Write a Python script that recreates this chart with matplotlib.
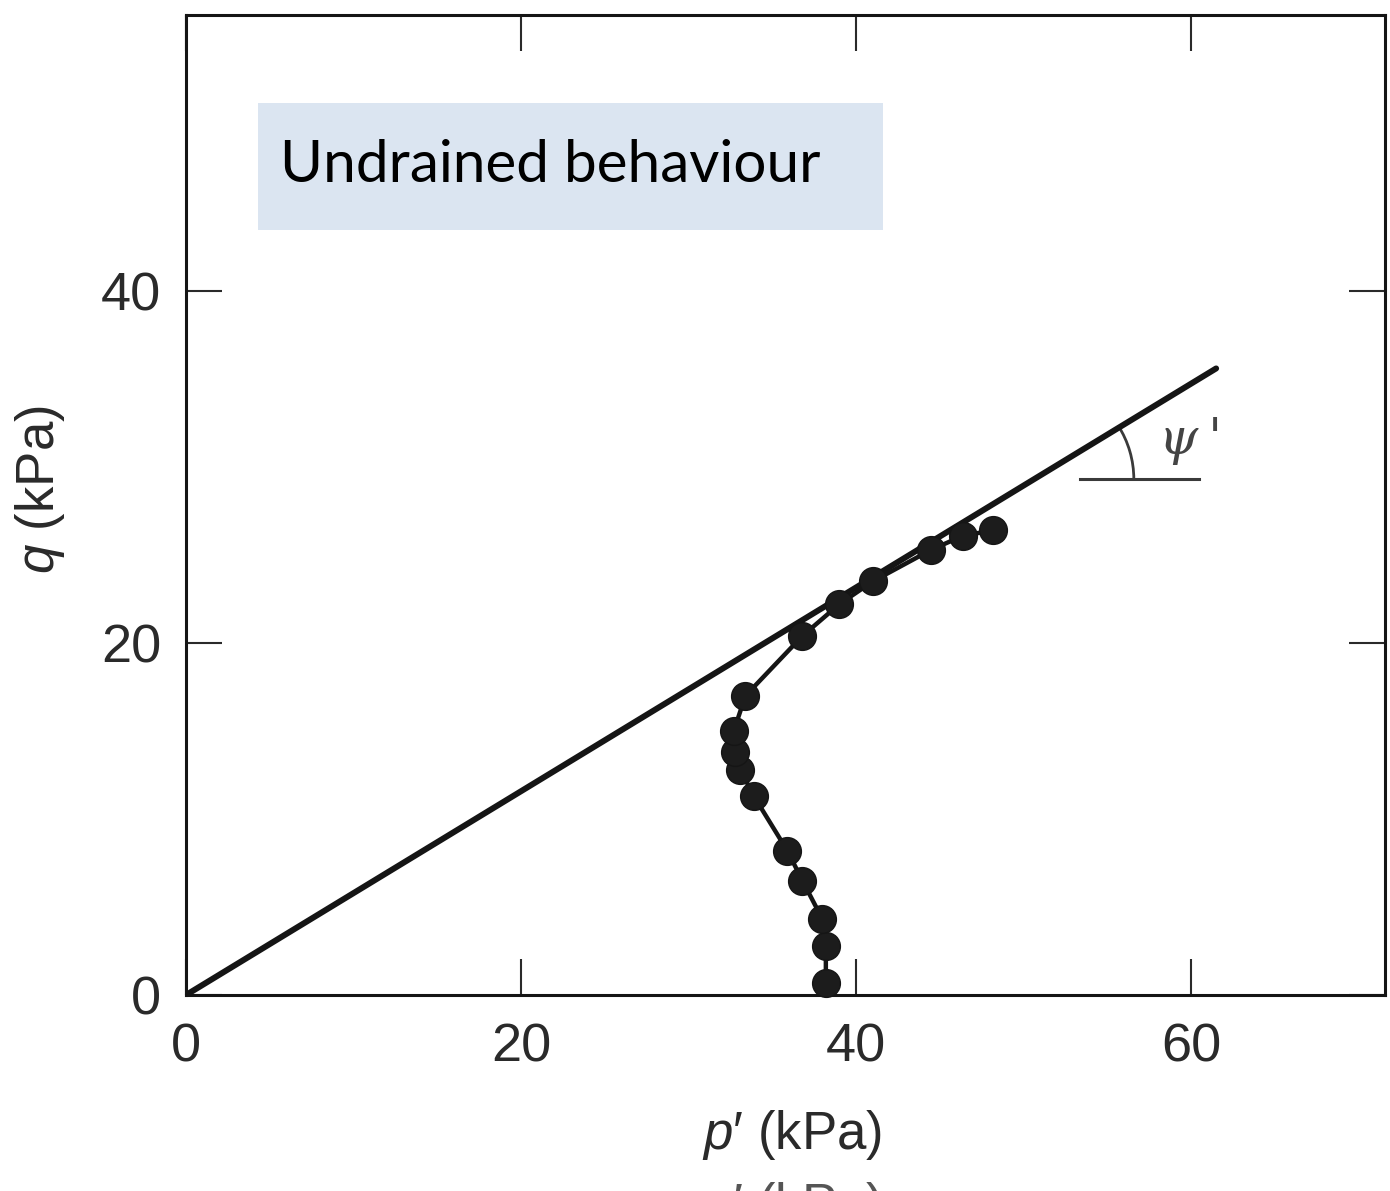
"""Undrained stress path in p'-q space (scanned textbook figure recreation)."""

import matplotlib

matplotlib.use("Agg")

import matplotlib.pyplot as plt
from matplotlib.patches import Arc, Rectangle

# stress path data points (kPa)
P_PATH = [38.2, 38.2, 38.0, 36.8, 35.9, 33.9, 33.1, 32.8, 32.7, 33.4,
          36.8, 39.0, 41.0, 44.5, 46.4, 48.2]
Q_PATH = [0.7, 2.8, 4.3, 6.5, 8.2, 11.3, 12.8, 13.8, 15.0, 17.0,
          20.4, 22.2, 23.5, 25.3, 26.1, 26.4]

# failure envelope through origin
LINE_P = [0.0, 61.5]
LINE_Q = [0.0, 35.6]

X_TICKS = [0, 20, 40, 60]
Y_TICKS = [0, 20, 40]

TITLE = "Undrained behaviour"
X_LABEL = "$p$\u2032 (kPa)"
Y_LABEL = "$q$ (kPa)"
INK = "#151515"
GREY = "#2a2a2a"

W_PX, H_PX = 1390, 1191
DPI = 100
PX_PER_P = 16.75   # pixels per kPa along x
PX_PER_Q = 17.6    # pixels per kPa along y

plt.rcParams["font.family"] = ["Liberation Sans", "DejaVu Sans"]
plt.rcParams["mathtext.fontset"] = "custom"
plt.rcParams["mathtext.rm"] = "Liberation Sans"
plt.rcParams["mathtext.it"] = "Liberation Sans:italic"

fig = plt.figure(figsize=(W_PX / DPI, H_PX / DPI), dpi=DPI)
fig.patch.set_facecolor("white")

# axes box in pixels: left 186, right 1385, top 15, bottom 995
ax = fig.add_axes([186 / W_PX, 1 - 995 / H_PX, (1385 - 186) / W_PX, (995 - 15) / H_PX])
ax.set_xlim(0, (1385 - 186) / PX_PER_P)
ax.set_ylim(0, (995 - 15) / PX_PER_Q)

ax.plot(LINE_P, LINE_Q, color=INK, lw=4.3, solid_capstyle="round", zorder=3)
ax.plot(P_PATH, Q_PATH, color=INK, lw=3.2, marker="o", markersize=20,
        markerfacecolor="#1c1c1c", markeredgecolor=INK, zorder=4, clip_on=False)

# angle marker: horizontal reference line and arc at the envelope
q_h = 29.3
p_c = q_h * LINE_P[1] / LINE_Q[1]
ax.plot([53.4, 60.5], [q_h, q_h], color="#3a3a3a", lw=2.2)
ang = 31.3
r_px = 100
ax.add_patch(Arc((p_c, q_h), 2 * r_px / PX_PER_P, 2 * r_px / PX_PER_Q,
                 theta1=0, theta2=ang, color="#3a3a3a", lw=2.0))
ax.text(60.0, 31.5, "\u03c8\u2009'", fontsize=36, color="#444444",
        ha="center", va="center", family=["DejaVu Serif"], style="italic")

# ticks: inward on all four sides, labels only bottom/left
ax.set_xticks(X_TICKS)
ax.set_yticks(Y_TICKS)
ax.tick_params(direction="in", length=26, width=1.5, color=GREY,
               labelsize=39, labelcolor=GREY, top=True, right=True)
ax.tick_params(axis="x", pad=20)
ax.tick_params(axis="y", pad=18)
for side in ["left", "right", "top", "bottom"]:
    ax.spines[side].set_linewidth(2.2)
    ax.spines[side].set_color(INK)

ax.set_xlabel(X_LABEL, fontsize=38, color=GREY, va="center")
ax.set_ylabel(Y_LABEL, fontsize=38, color=GREY, va="center")
ax.xaxis.set_label_coords((792 - 186) / 1199, -(1135 - 995) / 980)
ax.yaxis.set_label_coords((40 - 186) / 1199, (995 - 490) / 980)

# scan artefact: top of a duplicated axis label cut by the page edge
fig.text(792 / W_PX, -16 / H_PX, X_LABEL, fontsize=38, color="#555555",
         ha="center", va="center")

# title banner
fig.patches.append(Rectangle((258 / W_PX, 1 - 230 / H_PX), (883 - 258) / W_PX,
                             (230 - 103) / H_PX, transform=fig.transFigure,
                             facecolor="#dbe5f1", edgecolor="none", zorder=5))
title = fig.text(280 / W_PX, 1 - 166 / H_PX, TITLE, fontsize=44, color="black",
                 family=["Lato", "DejaVu Sans"], ha="left", va="center", zorder=6)
# fit the banner text to its width in the reference
fig.canvas.draw()
w = title.get_window_extent().width
title.set_fontsize(44 * 541 / w)

fig.savefig("out.png", dpi=DPI, facecolor="white")
